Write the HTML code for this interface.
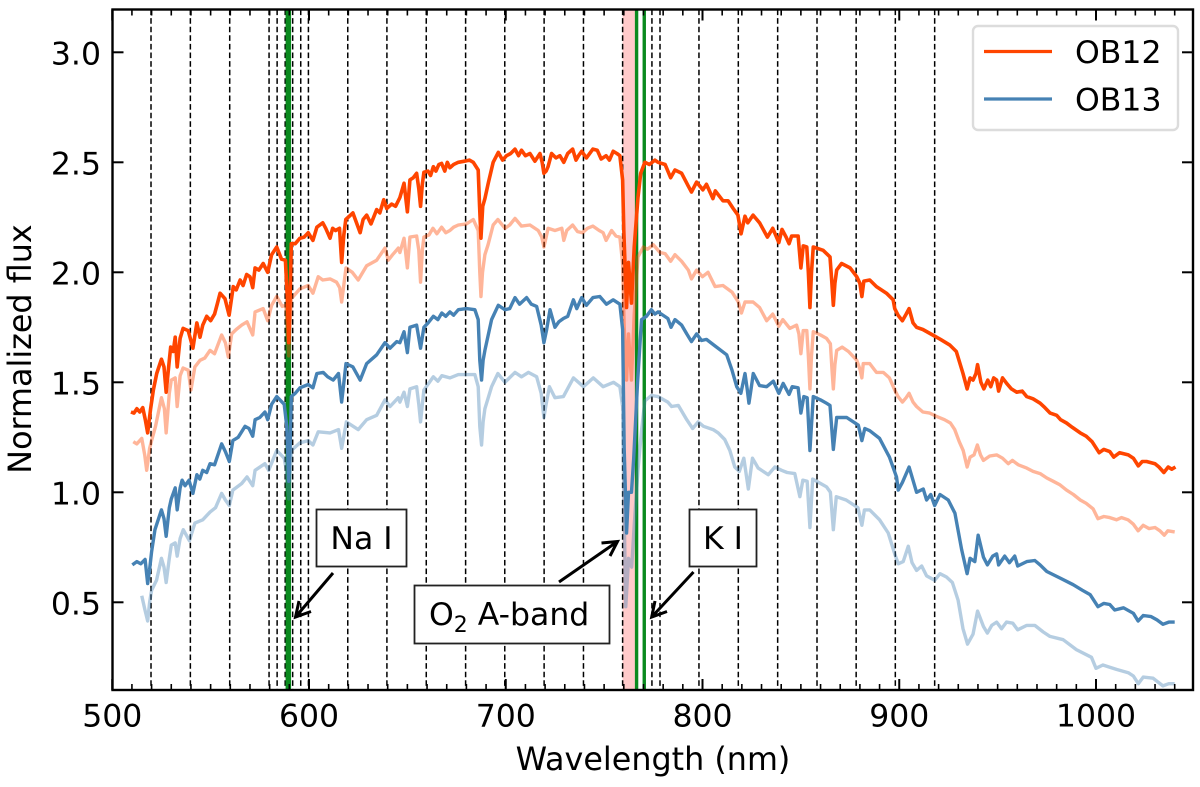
<!DOCTYPE html>
<html>
<head>
<meta charset="utf-8">
<title>Normalized flux spectra</title>
<style>
html,body{margin:0;padding:0;background:#fff;}
svg{display:block;}
text{font-family:"DejaVu Sans","Liberation Sans",sans-serif;fill:#000;}
</style>
</head>
<body>
<svg id="chart" width="1200" height="787" viewBox="0 0 1200 787" xmlns="http://www.w3.org/2000/svg">
  <rect x="0" y="0" width="1200" height="787" fill="#fff"/>
  <g id="spans"></g>
  <g id="dashes"></g>
  <g id="greens"></g>
  <g id="series"></g>
  <g id="ticks"></g>
  <rect x="112.5" y="9.5" width="1080.5" height="680.5" fill="none" stroke="#000" stroke-width="2.4"/>
  <g id="tick-labels"></g>
  <text x="653" y="770" font-size="31.8" text-anchor="middle">Wavelength (nm)</text>
  <text transform="translate(31,349) rotate(-90)" font-size="31.8" text-anchor="middle">Normalized flux</text>

  <g>
    <rect x="973" y="26" width="205" height="104" rx="5" ry="5" fill="#fff" fill-opacity="0.8" stroke="#dcdcdc" stroke-width="2.4"/>
    <line x1="984" y1="51.5" x2="1052" y2="51.5" stroke="#ff4500" stroke-width="3.2"/>
    <text x="1075" y="63" font-size="31.5">OB12</text>
    <line x1="984" y1="99" x2="1052" y2="99" stroke="#4682b4" stroke-width="3.2"/>
    <text x="1075" y="110.5" font-size="31.5">OB13</text>
  </g>

  <g>
    <rect x="316.5" y="509.5" width="90" height="57" fill="#fff" stroke="#222" stroke-width="1.8"/>
    <text x="361.5" y="549" font-size="31.5" text-anchor="middle">Na I</text>
    <path d="M333 573 L295.5 617 M299 601 L295.5 617 L311 611.5" fill="none" stroke="#000" stroke-width="3"/>
  </g>
  <g>
    <rect x="414.5" y="585.5" width="195" height="58" fill="#fff" stroke="#222" stroke-width="1.8"/>
    <text x="429" y="625" font-size="31.5">O<tspan font-size="22" dy="7">2</tspan><tspan dy="-7"> A-band</tspan></text>
    <path d="M559 582 L617.5 541.5 M601.5 543 L617.5 541.5 L610 556" fill="none" stroke="#000" stroke-width="3"/>
  </g>
  <g>
    <rect x="689.5" y="509.5" width="67" height="57" fill="#fff" stroke="#222" stroke-width="1.8"/>
    <text x="723" y="549" font-size="31.5" text-anchor="middle">K I</text>
    <path d="M693.5 572 L651.7 617 M655 601 L651.7 617 L667 611.5" fill="none" stroke="#000" stroke-width="3"/>
  </g>
</svg>
<script>
const xTickValues = [500, 600, 700, 800, 900, 1000];
const xMinorTickValues = [510,520,530,540,550,560,570,580,590,610,620,630,640,650,660,670,680,690,710,720,730,740,750,760,770,780,790,810,820,830,840,850,860,870,880,890,910,920,930,940,950,960,970,980,990,1010,1020,1030,1040];
const yTickValues = [0.5, 1.0, 1.5, 2.0, 2.5, 3.0];
const sampleBinLines = [519.7,539.7,559.7,579.7,583.8,587.9,591.7,595.8,599.7,619.7,639.6,659.6,679.6,699.5,719.5,739.5,759.4,766.5,770.4,774.3,778.4,798.2,818.2,838.2,858.2,878.1,898,918];
const sodiumLines = [589.5];
const potassiumLines = [766.5, 770.4];
const oxygenBand = [759.4, 766.2];

const ob12Faint = [[510.7,1.23],[512.5,1.22],[515,1.245],[516.5,1.17],[517.5,1.10],[519,1.2],[520,1.235],[522,1.3],[525,1.43],[526.5,1.38],[527.4,1.27],[529,1.45],[530,1.51],[532,1.52],[533,1.39],[534.5,1.53],[536,1.565],[538.6,1.555],[540,1.465],[542,1.57],[544.6,1.60],[547,1.61],[549.7,1.645],[552,1.63],[555.6,1.715],[557.5,1.68],[559,1.615],[560.7,1.72],[563,1.74],[565.8,1.76],[568.5,1.775],[571.4,1.715],[572.6,1.82],[576.7,1.835],[579,1.78],[581,1.85],[583.6,1.89],[586.4,1.845],[588.2,1.85],[589,1.75],[589.7,1.62],[590.3,1.75],[591,1.88],[595.4,1.925],[599.6,1.94],[602,1.905],[604.7,1.98],[607,1.965],[610.7,1.97],[614,1.955],[615.6,1.93],[616.6,1.865],[617.8,1.95],[618.8,2.02],[622,2.0],[625,1.965],[629.3,2.03],[634.4,2.055],[638.6,2.11],[640.3,2.055],[642.5,2.08],[645.4,2.11],[646.2,2.09],[648.3,2.155],[650,2.02],[651.3,2.16],[654.7,2.165],[655.8,2.1],[656.7,1.955],[657.6,2.1],[658.4,2.16],[661,2.17],[663,2.2],[665,2.175],[667.4,2.205],[669.5,2.18],[671.6,2.19],[673.5,2.205],[675.9,2.215],[680,2.22],[683.5,2.24],[686,2.19],[686.8,2.0],[687.4,1.89],[688.2,2.0],[689.4,2.08],[691,2.125],[693.6,2.215],[696,2.24],[699.6,2.2],[702,2.215],[704.7,2.245],[708,2.21],[712.3,2.215],[716.5,2.19],[718.3,2.16],[719.4,2.115],[720.3,2.15],[721.5,2.2],[725,2.19],[728.5,2.2],[729.5,2.145],[731,2.19],[734,2.215],[736.5,2.185],[739,2.18],[741.5,2.2],[744.3,2.21],[747.5,2.19],[749.5,2.18],[751,2.145],[753.8,2.19],[756,2.165],[758,2.16],[759.4,2.04],[760.2,1.75],[761.4,1.51],[762.4,1.72],[763.9,1.51],[765.3,1.81],[767.2,2.07],[769.9,2.115],[772,2.105],[775,2.125],[778.4,2.09],[781,2.085],[783.8,2.05],[786,2.08],[789.4,2.05],[792.8,2.01],[794.4,1.97],[797,2.01],[800,1.98],[802.8,2.0],[806.4,1.935],[810.4,1.94],[815,1.91],[818.2,1.865],[819.8,1.815],[821.6,1.865],[825.7,1.865],[829,1.84],[832.6,1.78],[835.7,1.81],[838.8,1.755],[840.8,1.785],[844.4,1.745],[847.8,1.76],[849,1.72],[850,1.63],[851.2,1.735],[853,1.735],[853.8,1.62],[854.6,1.47],[855.4,1.62],[856.3,1.73],[860,1.715],[863,1.70],[865,1.675],[865.8,1.56],[866.5,1.47],[867.3,1.58],[868.2,1.645],[871,1.66],[874.2,1.64],[878.4,1.60],[880,1.56],[881,1.52],[881.7,1.585],[885,1.585],[888.4,1.545],[891.9,1.545],[895,1.52],[897.7,1.465],[899.4,1.435],[901.6,1.41],[903.5,1.43],[905,1.45],[907,1.41],[908.8,1.39],[912,1.365],[915.5,1.36],[919,1.345],[923,1.33],[926,1.315],[928.2,1.285],[930.5,1.23],[932.5,1.19],[934.5,1.115],[936,1.16],[938,1.17],[939.7,1.215],[941.3,1.17],[942.8,1.145],[946,1.165],[949.5,1.17],[952.5,1.155],[955.4,1.13],[957.5,1.145],[960.5,1.125],[964.8,1.11],[968,1.095],[971.6,1.085],[975,1.065],[978.3,1.05],[981.5,1.035],[985,1.01],[988.5,0.99],[992,0.965],[995,0.95],[998.5,0.925],[1001,0.88],[1004,0.89],[1007,0.885],[1010.4,0.875],[1013,0.885],[1016.3,0.875],[1019,0.855],[1021.4,0.825],[1024,0.85],[1027,0.835],[1030,0.84],[1032.5,0.825],[1034.7,0.805],[1036.5,0.825],[1040,0.82]];

const ob12Main = [[509.5,1.365],[511,1.36],[512.5,1.38],[514,1.365],[515.5,1.385],[516.8,1.33],[518,1.27],[519.5,1.38],[520.9,1.465],[522.6,1.54],[525,1.605],[526.3,1.57],[527.4,1.455],[529,1.6],[529.7,1.66],[531,1.64],[532,1.705],[533,1.57],[534.5,1.7],[536,1.745],[538.6,1.735],[541,1.655],[543,1.77],[544.6,1.705],[546,1.76],[548,1.8],[550,1.78],[552,1.81],[553.5,1.86],[554.8,1.905],[557.3,1.88],[559.4,1.805],[561.5,1.935],[563,1.92],[565,1.965],[566.5,1.94],[568.3,1.99],[570,1.98],[571.4,1.93],[572.6,2.02],[574.5,2.01],[576.7,2.04],[579,2.0],[581,2.08],[583.6,2.115],[586,2.06],[588,2.055],[589,1.88],[589.7,1.68],[590.4,1.88],[591,2.13],[593,2.13],[595.4,2.155],[597.5,2.16],[599.6,2.18],[602,2.145],[604,2.205],[607,2.225],[608.5,2.2],[610.7,2.155],[612,2.2],[613.5,2.19],[615.5,2.2],[616.6,2.045],[617.7,2.17],[618.7,2.24],[622.3,2.27],[626,2.18],[627.5,2.24],[629.3,2.26],[631.5,2.22],[634.4,2.285],[636,2.27],[638,2.33],[639.5,2.29],[642,2.31],[644,2.3],[646.2,2.34],[648.3,2.405],[650,2.275],[651.3,2.42],[653,2.43],[654.7,2.45],[655.8,2.38],[656.7,2.30],[657.6,2.4],[658.4,2.455],[660.5,2.46],[661.8,2.44],[663.2,2.48],[664.5,2.46],[666,2.49],[667.4,2.495],[669,2.46],[670.3,2.5],[671.6,2.475],[673.5,2.49],[675.9,2.50],[679,2.505],[681.5,2.51],[683.5,2.50],[686,2.465],[686.7,2.3],[687.4,2.155],[688.3,2.3],[689.4,2.335],[691.1,2.405],[693.6,2.50],[696.2,2.545],[698.4,2.51],[700.4,2.53],[702.5,2.54],[704.7,2.56],[706.5,2.53],[708,2.555],[710,2.53],[712.3,2.54],[714.8,2.505],[717.4,2.54],[718.5,2.5],[719.4,2.45],[720.5,2.46],[721.5,2.48],[723.3,2.54],[725.5,2.52],[727.5,2.53],[729.5,2.5],[731.5,2.54],[734,2.56],[735.7,2.51],[737,2.53],[738.6,2.55],[741,2.52],[744.3,2.56],[746.5,2.555],[748.5,2.515],[751,2.53],[752.7,2.51],[754.6,2.55],[756.5,2.54],[758,2.53],[759.4,2.42],[760,2.19],[761.4,1.84],[762.4,2.045],[763.9,1.86],[765.3,2.115],[767.2,2.34],[768.6,2.45],[770.7,2.5],[773,2.49],[775.8,2.51],[777.4,2.50],[781,2.49],[783.8,2.43],[786,2.465],[789.4,2.45],[792.6,2.395],[794.4,2.365],[797,2.41],[800.2,2.375],[802,2.4],[805.3,2.335],[806.5,2.37],[810.4,2.325],[813,2.325],[815.6,2.29],[818,2.26],[819.6,2.175],[821.6,2.255],[823,2.225],[825.7,2.26],[829,2.225],[833,2.16],[835.7,2.2],[838.8,2.135],[840.4,2.195],[842.5,2.16],[844,2.13],[845.3,2.165],[848.6,2.165],[850,2.02],[851.2,2.12],[853,2.115],[853.8,2.0],[854.6,1.84],[855.4,2.0],[856.3,2.115],[861.3,2.10],[864.8,2.07],[865.7,1.96],[866.5,1.85],[867.3,1.95],[868.2,2.01],[870.7,2.04],[875,2.02],[878.4,1.98],[880,1.95],[881,1.89],[882,1.96],[885,1.965],[888.4,1.935],[893.5,1.905],[896.9,1.875],[897.7,1.835],[899.4,1.805],[901.6,1.78],[903.5,1.81],[905,1.835],[907,1.77],[908.8,1.75],[912,1.74],[917,1.715],[921,1.695],[925.6,1.67],[929,1.64],[932.4,1.54],[934.5,1.47],[936,1.52],[937.5,1.51],[939,1.54],[939.8,1.58],[941.5,1.5],[943,1.47],[945,1.51],[946.5,1.48],[948,1.52],[949.5,1.51],[950.5,1.46],[952.5,1.52],[954.6,1.495],[957,1.47],[959.7,1.455],[962.5,1.46],[964.8,1.435],[968,1.425],[971.6,1.405],[974,1.385],[976.7,1.36],[980,1.35],[982,1.33],[985,1.315],[988,1.295],[992,1.27],[995,1.255],[998,1.23],[1001.6,1.18],[1004,1.195],[1007,1.185],[1009,1.16],[1012,1.18],[1016.4,1.17],[1019,1.155],[1021.5,1.12],[1023.5,1.14],[1025.7,1.14],[1030,1.13],[1032,1.115],[1034.5,1.09],[1036.7,1.115],[1038.5,1.105],[1040.4,1.115]];

const ob13Faint = [[515,0.53],[516.5,0.47],[518,0.415],[519,0.5],[520,0.555],[522.5,0.6],[525,0.70],[526.3,0.66],[527.4,0.59],[529,0.7],[530,0.76],[532,0.77],[533,0.71],[534.5,0.79],[536.1,0.83],[539.2,0.78],[542,0.86],[546,0.875],[549.7,0.91],[552.5,0.93],[555.6,0.995],[557.5,0.965],[559.5,0.94],[561.3,1.01],[565.8,1.04],[568.5,1.07],[571.4,1.03],[572.6,1.10],[577.6,1.13],[579.5,1.1],[583.6,1.19],[587.4,1.155],[588.5,1.1],[589.7,0.97],[590.4,1.08],[591,1.19],[595.4,1.225],[599.6,1.235],[602,1.215],[604.7,1.275],[610.7,1.27],[615,1.285],[616.6,1.2],[619,1.32],[625,1.285],[629.3,1.33],[634.4,1.35],[638.6,1.42],[641.2,1.39],[645.4,1.43],[646.2,1.41],[648.3,1.455],[650,1.39],[651.3,1.47],[654.7,1.48],[655.8,1.4],[656.7,1.32],[657.6,1.4],[658.4,1.465],[663.2,1.525],[665.5,1.505],[667.5,1.53],[671.6,1.52],[675.9,1.535],[684.3,1.535],[686,1.48],[686.8,1.3],[687.7,1.215],[688.5,1.32],[689.4,1.38],[692.8,1.48],[696,1.54],[699.6,1.50],[704.7,1.545],[708,1.525],[711.5,1.545],[715.7,1.525],[718,1.45],[719.4,1.34],[720.5,1.4],[722.2,1.48],[725,1.43],[729.3,1.435],[734.4,1.52],[739.5,1.48],[744.5,1.52],[749.5,1.48],[754.8,1.50],[758,1.48],[759.4,1.39],[760,1.0],[761,0.48],[762.4,0.7],[764,0.66],[765.3,0.85],[767.2,1.1],[769,1.28],[770.7,1.415],[774,1.44],[777.4,1.435],[782.4,1.41],[784.3,1.39],[787.7,1.395],[792,1.33],[795,1.29],[797.8,1.32],[800.5,1.3],[805.4,1.285],[808,1.27],[811.3,1.24],[813.9,1.19],[816.4,1.115],[818.7,1.095],[821,1.155],[823.3,1.015],[825.4,1.155],[828.3,1.11],[833.4,1.08],[836.8,1.115],[840.2,1.10],[843,1.09],[846.9,1.085],[849.5,0.98],[851,1.055],[853.2,1.05],[854.6,0.84],[856,1.06],[860,1.04],[863,1.025],[865,1.0],[866.5,0.83],[868,0.98],[873,0.965],[879,0.93],[881,0.85],[882.3,0.92],[885,0.92],[890,0.875],[894.4,0.815],[897.7,0.72],[899.5,0.675],[902,0.685],[904.6,0.755],[906.5,0.68],[908.8,0.645],[911.4,0.665],[913.9,0.62],[918,0.60],[920.7,0.63],[924,0.615],[927,0.59],[929.9,0.51],[932.4,0.38],[934.7,0.31],[937.5,0.355],[939.8,0.46],[942.8,0.39],[944.8,0.36],[947,0.395],[949.5,0.41],[952,0.38],[954.5,0.41],[957.7,0.405],[960.2,0.375],[964.8,0.395],[968.9,0.395],[973.2,0.365],[976.6,0.345],[983.3,0.33],[990,0.285],[997.7,0.25],[1000,0.20],[1003.5,0.215],[1007,0.205],[1010.4,0.195],[1016.4,0.18],[1019,0.165],[1021.5,0.13],[1024,0.16],[1029,0.155],[1034,0.12],[1037,0.13],[1040,0.13]];

const ob13Main = [[510.2,0.67],[512.5,0.685],[514.5,0.675],[516.7,0.695],[518,0.585],[519,0.65],[520,0.73],[521.7,0.83],[525,0.92],[526.3,0.88],[527.4,0.80],[529,0.93],[530,0.97],[532,1.02],[533,0.92],[534.5,1.02],[535.5,1.055],[537,1.03],[539,1.055],[541,0.995],[543,1.08],[544.5,1.06],[546,1.10],[548,1.09],[549.7,1.13],[552,1.125],[555.6,1.22],[557.5,1.185],[559.5,1.14],[561.3,1.235],[564,1.25],[567.5,1.30],[569.5,1.29],[571.4,1.255],[572.6,1.33],[575,1.34],[577.6,1.365],[579,1.33],[581,1.4],[583.6,1.435],[587.4,1.40],[588.7,1.3],[589.7,1.05],[590.4,1.2],[591,1.435],[593,1.45],[595.4,1.475],[599.6,1.49],[602,1.475],[604,1.54],[607.2,1.545],[609.5,1.525],[612.3,1.51],[615,1.54],[616.6,1.41],[618.8,1.585],[622.3,1.57],[626,1.51],[629.3,1.585],[634.4,1.625],[638.6,1.68],[641.2,1.655],[644.6,1.685],[646.2,1.68],[648.3,1.73],[650,1.635],[651.3,1.75],[654.7,1.76],[656.7,1.655],[658.4,1.75],[660.5,1.77],[663.2,1.80],[665.5,1.785],[667.5,1.815],[669.5,1.8],[671.6,1.82],[673.5,1.805],[675.9,1.83],[680,1.835],[684.3,1.83],[686,1.785],[686.8,1.6],[687.7,1.51],[688.5,1.6],[689.4,1.645],[692.8,1.785],[696.2,1.85],[699.6,1.83],[702,1.835],[704.7,1.885],[707,1.855],[710.6,1.885],[713,1.855],[715.7,1.845],[718,1.76],[719.4,1.68],[720.8,1.74],[722.5,1.83],[725,1.75],[727,1.775],[729.3,1.79],[731.5,1.8],[734.4,1.875],[736.1,1.835],[738.6,1.885],[741,1.85],[744.3,1.885],[747.8,1.89],[751.2,1.855],[754.6,1.875],[758,1.855],[759.4,1.74],[760.2,1.2],[761.4,0.815],[762.4,1.0],[763.9,1.0],[765,1.15],[767,1.5],[769,1.785],[771.5,1.8],[774,1.83],[775.8,1.81],[777.4,1.82],[782.4,1.79],[784,1.75],[786,1.785],[789.4,1.76],[792,1.72],[794.4,1.685],[797,1.72],[799.5,1.69],[802,1.695],[806.4,1.665],[812.3,1.625],[815,1.555],[817.4,1.48],[819.5,1.45],[821.6,1.54],[822.7,1.47],[823.6,1.405],[824.7,1.47],[825.8,1.54],[829,1.485],[832.6,1.48],[836,1.505],[838.8,1.45],[841,1.495],[844,1.445],[845.6,1.48],[848.6,1.475],[850,1.36],[851.5,1.435],[853.2,1.43],[854.6,1.19],[856.3,1.435],[860,1.42],[863,1.405],[864.8,1.395],[866.5,1.195],[868.2,1.34],[873.3,1.34],[879.2,1.305],[881,1.235],[882.5,1.29],[885,1.28],[890,1.245],[895,1.16],[898.6,1.07],[899.5,1.01],[901.6,1.045],[905,1.115],[908.8,1.0],[912.2,1.015],[913.9,0.965],[916,0.99],[918,0.94],[920.7,0.99],[924.9,0.965],[928.3,0.905],[931.7,0.74],[934.5,0.63],[936,0.70],[938.4,0.685],[940.1,0.805],[942.8,0.705],[944.8,0.67],[947.5,0.71],[949.5,0.72],[950.5,0.67],[953.6,0.71],[956,0.68],[958.7,0.71],[960.2,0.665],[964.8,0.685],[968.9,0.69],[971.6,0.67],[975,0.64],[981.8,0.61],[988.4,0.58],[993,0.555],[997,0.535],[1001,0.48],[1004,0.495],[1007,0.49],[1009.5,0.465],[1014,0.475],[1019,0.45],[1021.4,0.415],[1024,0.44],[1028,0.435],[1031,0.42],[1034,0.40],[1037,0.41],[1040,0.41]];

const svgNS = 'http://www.w3.org/2000/svg';
const xPx = function (w) { return 112.25 + (w - 500) * 1.9675; };
const yPx = function (v) { return 492.3 + (1 - v) * 220; };
const plotTop = 9.5;
const plotBottom = 690;
const plotLeft = 112.5;
const plotRight = 1193;

function make(tag, parentId) {
  const el = document.createElementNS(svgNS, tag);
  document.getElementById(parentId).appendChild(el);
  return el;
}

/* O2 band span */
const bandRect = make('rect', 'spans');


bandRect.setAttribute('x', xPx(oxygenBand[0]));
bandRect.setAttribute('y', plotTop);
bandRect.setAttribute('width', xPx(oxygenBand[1]) - xPx(oxygenBand[0]));
bandRect.setAttribute('height', plotBottom - plotTop);
bandRect.setAttribute('fill', '#ffcaca');

/* green absorption lines */
sodiumLines.forEach(function (w) {
  const l = make('line', 'greens');
  
  
  l.setAttribute('x1', xPx(w));
  l.setAttribute('x2', xPx(w));
  l.setAttribute('y1', plotTop);
  l.setAttribute('y2', plotBottom);
  l.setAttribute('stroke', '#0a8a1e');
  l.setAttribute('stroke-width', 5.5);
});
potassiumLines.forEach(function (w) {
  const l = make('line', 'greens');
  
  
  l.setAttribute('x1', xPx(w));
  l.setAttribute('x2', xPx(w));
  l.setAttribute('y1', plotTop);
  l.setAttribute('y2', plotBottom);
  l.setAttribute('stroke', '#0a8a1e');
  l.setAttribute('stroke-width', 3.4);
});

/* dashed bin boundaries */
sampleBinLines.forEach(function (w) {
  const l = make('line', 'dashes');
  
  
  l.setAttribute('x1', xPx(w));
  l.setAttribute('x2', xPx(w));
  l.setAttribute('y1', plotTop);
  l.setAttribute('y2', plotBottom);
  l.setAttribute('stroke', '#000');
  l.setAttribute('stroke-width', 1.5);
  l.setAttribute('stroke-dasharray', '5.6 3');
});

/* spectra */
function linePath(points) {
  return points.map(function (p, i) {
    return (i ? 'L' : 'M') + xPx(p[0]).toFixed(2) + ' ' + yPx(p[1]).toFixed(2);
  }).join(' ');
}

const ob12FaintPath = make('path', 'series');


ob12FaintPath.setAttribute('d', linePath(ob12Faint));
ob12FaintPath.setAttribute('fill', 'none');
ob12FaintPath.setAttribute('stroke', '#ff4500');
ob12FaintPath.setAttribute('stroke-opacity', '0.4');
ob12FaintPath.setAttribute('stroke-width', '3.4');
ob12FaintPath.setAttribute('stroke-linejoin', 'round');

const ob12MainPath = make('path', 'series');


ob12MainPath.setAttribute('d', linePath(ob12Main));
ob12MainPath.setAttribute('fill', 'none');
ob12MainPath.setAttribute('stroke', '#ff4500');
ob12MainPath.setAttribute('stroke-width', '3.6');
ob12MainPath.setAttribute('stroke-linejoin', 'round');

const ob13FaintPath = make('path', 'series');


ob13FaintPath.setAttribute('d', linePath(ob13Faint));
ob13FaintPath.setAttribute('fill', 'none');
ob13FaintPath.setAttribute('stroke', '#4682b4');
ob13FaintPath.setAttribute('stroke-opacity', '0.4');
ob13FaintPath.setAttribute('stroke-width', '3.4');
ob13FaintPath.setAttribute('stroke-linejoin', 'round');

const ob13MainPath = make('path', 'series');


ob13MainPath.setAttribute('d', linePath(ob13Main));
ob13MainPath.setAttribute('fill', 'none');
ob13MainPath.setAttribute('stroke', '#4682b4');
ob13MainPath.setAttribute('stroke-width', '3.4');
ob13MainPath.setAttribute('stroke-linejoin', 'round');

/* ticks */
function tick(x1, y1, x2, y2, width, name) {
  const t = make('line', 'ticks');
  
  
  t.setAttribute('x1', x1);
  t.setAttribute('y1', y1);
  t.setAttribute('x2', x2);
  t.setAttribute('y2', y2);
  t.setAttribute('stroke', '#000');
  t.setAttribute('stroke-width', width);
}
xTickValues.forEach(function (w) {
  tick(xPx(w), plotBottom, xPx(w), plotBottom - 11, 2, 'x-major-tick');
  tick(xPx(w), plotTop, xPx(w), plotTop + 11, 2, 'x-major-tick-top');
  const label = make('text', 'tick-labels');
  
  
  label.setAttribute('x', xPx(w));
  label.setAttribute('y', 726.5);
  label.setAttribute('font-size', '31.5');
  label.setAttribute('text-anchor', 'middle');
  label.textContent = String(w);
});
xMinorTickValues.forEach(function (w) {
  tick(xPx(w), plotBottom, xPx(w), plotBottom - 6, 1.6, 'x-minor-tick');
  tick(xPx(w), plotTop, xPx(w), plotTop + 6, 1.6, 'x-minor-tick-top');
});
yTickValues.forEach(function (v) {
  tick(plotLeft, yPx(v), plotLeft + 11, yPx(v), 2, 'y-major-tick');
  tick(plotRight, yPx(v), plotRight - 11, yPx(v), 2, 'y-major-tick-right');
  const label = make('text', 'tick-labels');
  
  
  label.setAttribute('x', 101);
  label.setAttribute('y', yPx(v) + 12);
  label.setAttribute('font-size', '31.5');
  label.setAttribute('text-anchor', 'end');
  label.textContent = v.toFixed(1);
});
</script>
</body>
</html>
